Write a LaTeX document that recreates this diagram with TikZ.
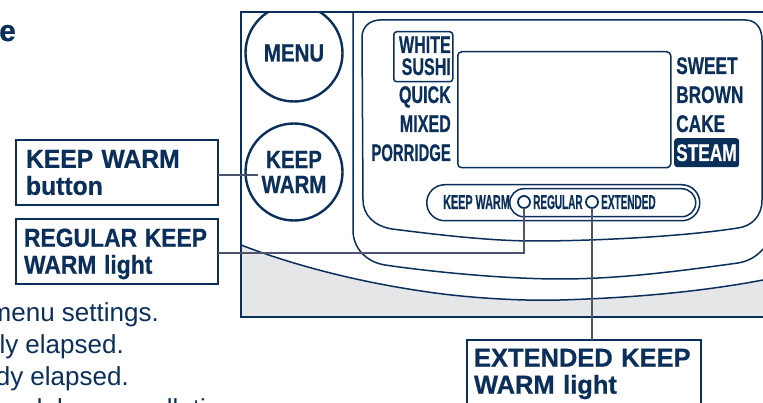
\documentclass[tikz,border=0pt]{standalone}
\usepackage{fontspec}
\setmainfont{Liberation Sans}[BoldFeatures={FakeBold=0.6}]
\usepackage{graphicx}
\usetikzlibrary{positioning}
\usetikzlibrary{calc}
\definecolor{navy}{HTML}{0B2F5B}
\definecolor{leader}{HTML}{4E5470}
\definecolor{shell}{HTML}{E5E6E8}
\tikzset{
panelline/.style = {draw=navy, line width=1.5pt},
framebold/.style = {draw=navy, line width=2.2pt},
leaderline/.style = {draw=leader, line width=2.4pt},
callout/.style = {draw=navy, line width=1.5pt, fill=white, anchor=north west, align=left,
                  text=navy, inner xsep=10pt, inner ysep=2pt, outer sep=0pt,
                  font=\fontsize{26}{27}\selectfont\bfseries},
menutext/.style = {text=navy, inner sep=0pt, font=\fontsize{24}{24}\selectfont\bfseries},
tinytext/.style = {text=navy, inner sep=0pt, anchor=base west, font=\fontsize{20}{20}\selectfont\bfseries},
bodytext/.style = {text=navy, inner sep=0pt, anchor=base east, font=\fontsize{26}{26}\selectfont},
lightdot/.style = {circle, draw=navy, line width=1.8pt, fill=white, minimum size=12pt,
                   inner sep=0pt, outer sep=0pt},
roundbutton/.style = {circle, draw=navy, line width=2.4pt, minimum size=97pt, inner sep=0pt,
                      outer sep=0pt, text=navy, align=center,
                      font=\fontsize{25}{27}\selectfont\bfseries}
}
\newcommand{\narrowtext}[2]{\scalebox{#1}[1]{#2}}
\newcommand{\leftmenu}[4]{\node[menutext, anchor=base east] (#1) at (451,#2) {\narrowtext{#3}{#4}};}
\newcommand{\rightmenu}[3]{\node[menutext, anchor=base west] (#1) at (676,#2) {\narrowtext{.72}{#3}};}
\newcommand{\bodyline}[3]{\node[bodytext] (#1) at (#2) {#3};}
\begin{document}
\begin{tikzpicture}[x=1pt,y=-1pt]
        \clip (0,0) rectangle (763,403);
        \fill[white] (0,0) rectangle (763,403);
        % heading and text cut by the crop
        \node[anchor=base west, inner sep=0pt, text=navy, font=\fontsize{30}{30}\selectfont\bfseries] (heading) at (-1,41) {e};
        \bodyline{line1}{159,321}{menu settings.};
        \bodyline{line2}{124,353}{ly elapsed.};
        \bodyline{line3}{129,385}{dy elapsed.};
        \bodyline{line4}{235,417}{delay cancellation};
        % housing
        \fill[shell] (241,245) .. controls (275,258) and (340,280) .. (435,293) .. controls (480,299) and (530,301) .. (560,300) .. controls (630,298) and (700,292) .. (763,280) -- (763,317) -- (241,317) -- cycle;
        \draw[panelline] (241,245) .. controls (275,258) and (340,280) .. (435,293) .. controls (480,299) and (530,301) .. (560,300) .. controls (630,298) and (700,292) .. (763,280);
        \draw[panelline] (353,12) -- (353,230) .. controls (353,248) and (366,262) .. (385,265) .. controls (440,273) and (510,279) .. (560,279) .. controls (620,279) and (680,271) .. (738,263) .. controls (750,261) and (758,255) .. (763,249);
        \draw[panelline] (380,20) -- (745,20) .. controls (756,20) and (762,28) .. (762,40) -- (762,200) .. controls (762,216) and (752,226) .. (738,228) .. controls (680,237) and (590,241) .. (535,241) .. controls (490,241) and (440,235) .. (392,229) .. controls (374,226) and (363,215) .. (363,200) -- (362,37) .. controls (362,27) and (370,20) .. (380,20) -- cycle;
        \draw[framebold] (763,12) -- (241,12) -- (241,317) -- (763,317);
        % round buttons
        \begin{scope}
        \clip (241,12) rectangle (353,317);
        \node[roundbutton] (menu) at (294,53) {\narrowtext{.82}{MENU}};
        \end{scope}
        \node[roundbutton] (keepwarm) at (294,172) {\narrowtext{.82}{KEEP}\\[-2pt]\narrowtext{.82}{WARM}};
        % display and menu names
        \node[draw=navy, line width=1.5pt, rounded corners=4pt, minimum width=213pt, minimum height=116pt, inner sep=0pt, anchor=north west] (display) at (457,51) {};
        \node[draw=navy, line width=1.5pt, rounded corners=3pt, minimum width=59pt, minimum height=50pt, inner sep=0pt, anchor=north west] (sushibox) at (393,31) {};
        \leftmenu{white}{53}{.67}{WHITE};
        \leftmenu{sushi}{75}{.67}{SUSHI};
        \leftmenu{quick}{103}{.67}{QUICK};
        \leftmenu{mixed}{132}{.67}{MIXED};
        \leftmenu{porridge}{161}{.62}{PORRIDGE};
        \rightmenu{sweet}{74}{SWEET};
        \rightmenu{brown}{103}{BROWN};
        \rightmenu{cake}{132}{CAKE};
        \node[fill=navy, rounded corners=3pt, minimum width=65pt, minimum height=29pt, inner sep=0pt, anchor=north west] (steambox) at (674,138) {};
        \rightmenu{steam}{161}{\textcolor{white}{STEAM}};
        % keep warm strip
        \node[draw=navy, line width=1.5pt, rounded corners=18pt, minimum width=273pt, minimum height=36pt, inner sep=0pt, anchor=north west] (strip) at (426,184) {};
        \node[draw=navy, line width=1.5pt, rounded corners=14pt, minimum width=186pt, minimum height=28pt, inner sep=0pt, anchor=north west] (stripin) at (509,188) {};
        \node[tinytext] (keeplabel) at (443,209) {\narrowtext{.54}{KEEP WARM}};
        \node[tinytext] (regularlabel) at (533,209) {\narrowtext{.5}{REGULAR}};
        \node[tinytext] (extendedlabel) at (601,209) {\narrowtext{.5}{EXTENDED}};
        % call-outs and leaders
        \node[callout, minimum width=202pt, minimum height=65pt, text width=182pt] (keepbutton) at (16,140) {\narrowtext{.95}{KEEP WARM}\\\narrowtext{.95}{button}};
        \node[callout, minimum width=202pt, minimum height=65pt, text width=186pt, inner xsep=8pt] (regularbox) at (16,219) {\rule{0pt}{23pt}\narrowtext{.88}{REGULAR KEEP}\\\narrowtext{.88}{WARM light}};
        \node[callout, minimum width=234pt, minimum height=68pt, text width=220pt, inner xsep=7pt] (extendedbox) at (467,340) {\narrowtext{.98}{EXTENDED KEEP}\\\narrowtext{.98}{WARM light}};
        \node[lightdot] (regular) at (524,202) {};
        \node[lightdot] (extended) at (592,202) {};
        \coordinate (buttonend) at (258,175);
        \coordinate (regularelbow) at (524,253);
        \draw[leaderline] (keepbutton.east |- buttonend) -- (buttonend);
        \draw[leaderline] (regularbox.east |- regularelbow) -- (regularelbow) -- (regular.south);
        \draw[leaderline] (extendedbox.north -| extended) -- (extended.south);
        \end{tikzpicture}
\end{document}
